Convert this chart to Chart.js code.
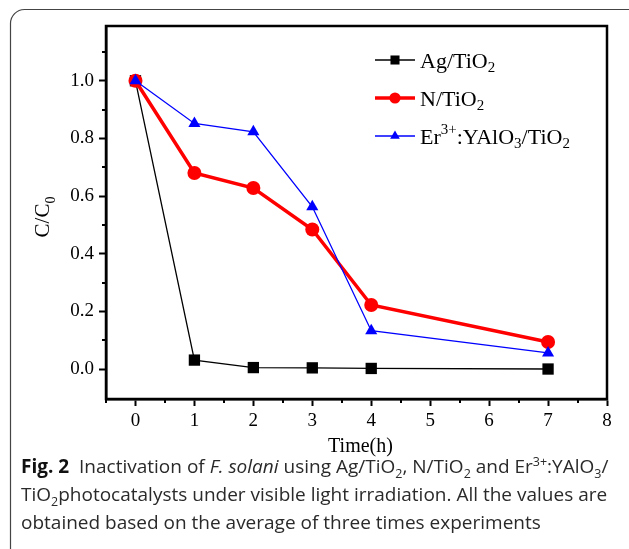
<!DOCTYPE html>
<html>
<head>
<meta charset="utf-8">
<script src="https://cdn.jsdelivr.net/npm/chart.js@4/dist/chart.umd.min.js"></script>
<style>
  html, body { margin: 0; padding: 0; background: #fff; }
  #wrap { position: relative; width: 629px; height: 549px; overflow: hidden; }
  #chart { position: absolute; left: 0; top: 0; }
  #caption {
    position: absolute; left: 21px; top: 452px; width: 610px;
    font-family: "Open Sans", sans-serif; font-size: 19px; line-height: 28px;
    letter-spacing: 0; color: #2a2a2a; white-space: nowrap;
  }
  #caption b { font-weight: 700; color: #111; }
  #caption sub, #caption sup { font-size: 12.5px; line-height: 0; }
</style>
</head>
<body>
<div id="wrap">
  <canvas id="chart" width="629" height="549"></canvas>
  <div id="caption">
    <b>Fig. 2</b>&nbsp; Inactivation of <i>F. solani</i> using Ag/TiO<sub>2</sub>, N/TiO<sub>2</sub> and Er<sup>3+</sup>:YAlO<sub>3</sub>/<br>
    TiO<sub>2</sub>photocatalysts under visible light irradiation. All the values are<br>
    obtained based on the average of three times experiments
  </div>
</div>
<script>
// time points (h)
const times = [0, 1, 2, 3, 4, 7];
// C/C0 for each catalyst
const agTiO2 = [1.0, 0.031, 0.005, 0.004, 0.002, 0.0];
const nTiO2 = [1.0, 0.68, 0.628, 0.484, 0.222, 0.094];
const erTiO2 = [1.0, 0.852, 0.823, 0.563, 0.133, 0.056];
const xTicks = [0, 1, 2, 3, 4, 5, 6, 7, 8];
const yTicks = [0.0, 0.2, 0.4, 0.6, 0.8, 1.0];

const serif = '"Liberation Serif", "Times New Roman", serif';

function toPoints(ys) {
    return times.map((t, i) => ({ x: t, y: ys[i] }));
}

// draws text pieces with sub/superscripts, returns end x
function richText(ctx, parts, x, y, size) {
    parts.forEach(p => {
        let fs = size, dy = 0;
        if (p.sub) { fs = size * 0.68; dy = size * 0.28; }
        if (p.sup) { fs = size * 0.68; dy = -size * 0.36; }
        ctx.font = fs + 'px ' + serif;
        ctx.fillText(p.t, x, y + dy);
        x += ctx.measureText(p.t).width;
    });
    return x;
}

const legendItems = [
    { parts: [{ t: 'Ag/TiO' }, { t: '2', sub: true }] },
    { parts: [{ t: 'N/TiO' }, { t: '2', sub: true }] },
    { parts: [{ t: 'Er' }, { t: '3+', sup: true }, { t: ':YAlO' }, { t: '3', sub: true }, { t: '/TiO' }, { t: '2', sub: true }] }
];

const framePlugin = {
    id: 'frame',
    beforeDraw(chart) {
        const ctx = chart.ctx;
        // rounded figure box
        ctx.save();
        ctx.strokeStyle = '#444';
        ctx.lineWidth = 1.2;
        ctx.beginPath();
        ctx.roundRect(10.5, 9.5, 640, 560, 14);
        ctx.stroke();
        ctx.restore();
    },
    afterDraw(chart) {
        const ctx = chart.ctx;
        const a = chart.chartArea;
        const xs = chart.scales.x, ys = chart.scales.y;
        ctx.save();
        // plot frame
        ctx.strokeStyle = '#000';
        ctx.lineWidth = 2.5;
        ctx.strokeRect(a.left, a.top, a.right - a.left, a.bottom - a.top);

        // minor ticks
        ctx.lineWidth = 2;
        ctx.beginPath();
        for (let v = -0.5; v <= 7.5; v += 1) {
            const px = Math.round(xs.getPixelForValue(v));
            ctx.moveTo(px, a.bottom);
            ctx.lineTo(px, a.bottom + 4);
        }
        for (let v = 0.1; v < 1.2; v += 0.2) {
            const py = Math.round(ys.getPixelForValue(v));
            ctx.moveTo(a.left, py);
            ctx.lineTo(a.left - 4, py);
        }
        ctx.stroke();

        // axis titles
        ctx.fillStyle = '#000';
        ctx.textBaseline = 'alphabetic';
        ctx.font = '20px ' + serif;
        ctx.textAlign = 'center';
        ctx.fillText('Time(h)', (a.left + a.right) / 2 + 4, 452);
        ctx.textAlign = 'left';
        ctx.save();
        ctx.translate(49, 216);
        ctx.rotate(-Math.PI / 2);
        const yParts = [{ t: 'C/C' }, { t: '0', sub: true }];
        ctx.font = '21px ' + serif;
        const w = ctx.measureText('C/C').width + 9;
        richText(ctx, yParts, -w / 2, 0, 21);
        ctx.restore();

        // legend
        chart.data.datasets.forEach((ds, i) => {
            const y = 60 + i * 38;
            ctx.strokeStyle = ds.borderColor;
            ctx.fillStyle = ds.backgroundColor;
            ctx.lineWidth = ds.borderWidth;
            ctx.beginPath();
            ctx.moveTo(375, y);
            ctx.lineTo(415, y);
            ctx.stroke();
            ctx.lineWidth = 0;
            Chart.helpers.drawPoint(ctx, {
                pointStyle: ds.pointStyle,
                radius: ds.pointRadius * 0.8,
                borderWidth: 0
            }, 395, y);
            ctx.fillStyle = '#000';
            ctx.textBaseline = 'middle';
            richText(ctx, legendItems[i].parts, 420, y + 2, 22);
        });
        ctx.restore();
    }
};

new Chart(document.getElementById('chart'), {
    type: 'line',
    data: {
        datasets: [
            {
                label: 'Ag/TiO2',
                data: toPoints(agTiO2),
                borderColor: '#000',
                backgroundColor: '#000',
                borderWidth: 1.3,
                pointStyle: 'rect',
                pointRadius: 8,
                pointBorderWidth: 0,
                order: 3
            },
            {
                label: 'N/TiO2',
                data: toPoints(nTiO2),
                borderColor: '#ff0000',
                backgroundColor: '#ff0000',
                borderWidth: 3.5,
                pointStyle: 'circle',
                pointRadius: 7,
                pointBorderWidth: 0,
                order: 2
            },
            {
                label: 'Er3+:YAlO3/TiO2',
                data: toPoints(erTiO2),
                borderColor: '#0000ff',
                backgroundColor: '#0000ff',
                borderWidth: 1.3,
                pointStyle: 'triangle',
                pointRadius: 7,
                pointBorderWidth: 0,
                order: 1
            }
        ]
    },
    options: {
        responsive: false,
        animation: false,
        layout: { padding: { left: 0, top: 26, right: 22, bottom: 0 } },
        plugins: {
            legend: { display: false },
            tooltip: { enabled: false }
        },
        scales: {
            x: {
                type: 'linear',
                min: -0.5,
                max: 8,
                afterFit(scale) { scale.height = 150; },
                afterBuildTicks(scale) { scale.ticks = xTicks.map(v => ({ value: v })); },
                grid: { drawOnChartArea: false, drawTicks: true, tickLength: 7, tickWidth: 2, tickColor: '#000' },
                border: { display: true, color: '#000', width: 2.5 },
                ticks: {
                    color: '#000',
                    padding: 4,
                    maxRotation: 0,
                    font: { family: serif, size: 19 },
                    callback: v => String(v)
                }
            },
            y: {
                min: -0.104,
                max: 1.19,
                afterFit(scale) { scale.width = 106; },
                afterBuildTicks(scale) { scale.ticks = yTicks.map(v => ({ value: v })); },
                grid: { drawOnChartArea: false, drawTicks: true, tickLength: 7, tickWidth: 2, tickColor: '#000' },
                border: { display: true, color: '#000', width: 2.5 },
                ticks: {
                    color: '#000',
                    padding: 5,
                    font: { family: serif, size: 19 },
                    callback: v => Number(v).toFixed(1)
                }
            }
        }
    },
    plugins: [framePlugin]
});
</script>
</body>
</html>
